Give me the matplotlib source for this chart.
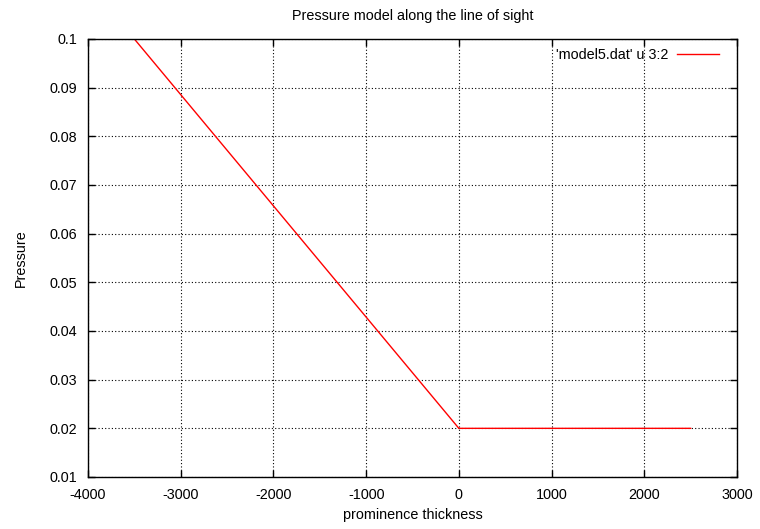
import numpy as np
import matplotlib.pyplot as plt

plt.rcParams['font.family'] = ['Liberation Sans', 'DejaVu Sans']
plt.rcParams['font.size'] = 10.4
plt.rcParams['axes.unicode_minus'] = False

# model5.dat, column 3 vs column 2
thickness = [-3500, 0, 2500]
pressure = [0.1, 0.02, 0.02]

xticks = [-4000, -3000, -2000, -1000, 0, 1000, 2000, 3000]
yticks = [0.01, 0.02, 0.03, 0.04, 0.05, 0.06, 0.07, 0.08, 0.09, 0.1]
yticklabels = ['0.01', '0.02', '0.03', '0.04', '0.05', '0.06', '0.07', '0.08', '0.09', '0.1']

fig = plt.figure(figsize=(7.6, 5.29), dpi=100)
ax = fig.add_axes([88/760, 1 - 477/529, (737-88)/760, (477-39)/529])

ax.plot(thickness, pressure, color='red', lw=1, label="'model5.dat' u 3:2")

ax.set_xlim(-4000, 3000)
ax.set_ylim(0.01, 0.1)
ax.set_xticks(xticks)
ax.set_yticks(yticks)
ax.set_yticklabels(yticklabels)
ax.tick_params(direction='in', length=5, top=True, right=True, width=1, pad=8)
ax.grid(True, color='black', linestyle=(0, (1, 2)), lw=0.8)
for s in ax.spines.values():
    s.set_linewidth(1)

ax.set_title('Pressure model along the line of sight', pad=13.5, fontsize=10.4)
ax.set_xlabel('prominence thickness', labelpad=4)
ax.set_ylabel('Pressure', labelpad=15)

ax.legend(loc='upper right', frameon=False, markerfirst=False, handlelength=2.9,
          borderpad=0, borderaxespad=0, handletextpad=0.63,
          bbox_to_anchor=(1 - 18/649, 1 - 9/438))

fig.savefig('out.png', dpi=100)
